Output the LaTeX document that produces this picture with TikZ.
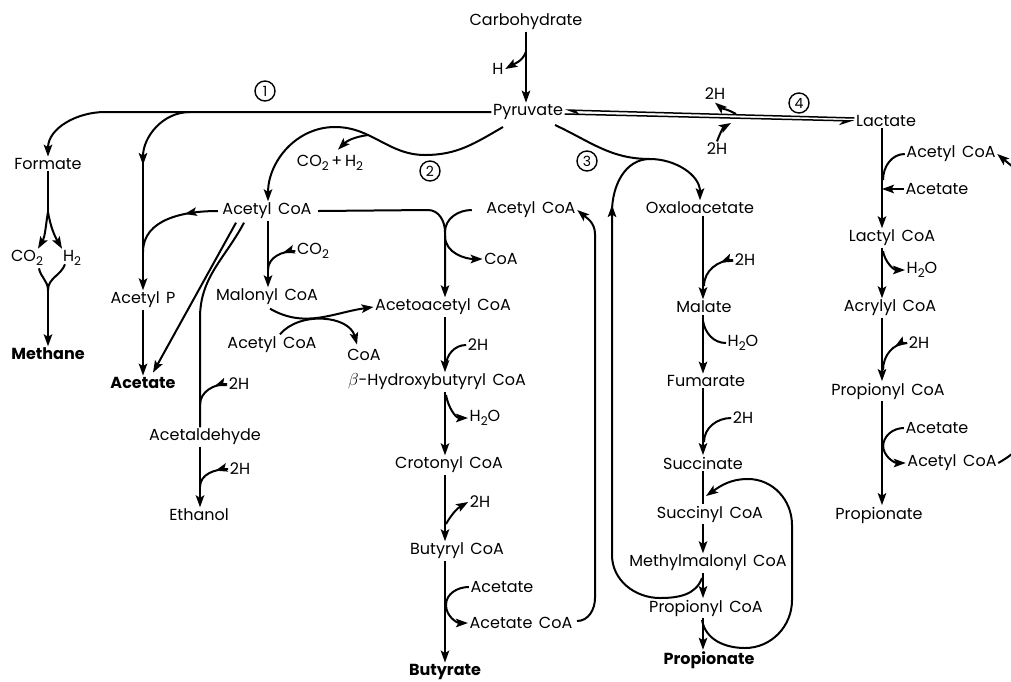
\documentclass[tikz,border=0pt]{standalone}
\usepackage{fontspec}
\setmainfont{Poppins}
\usetikzlibrary{arrows.meta,decorations.markings,calc}
\newcommand{\subd}[1]{\raisebox{-0.45ex}{\fontsize{12}{12}\selectfont #1}}
\newcommand{\widespace}{\spaceskip=6.5pt plus 1pt minus 0pt\relax}
\begin{document}
\begin{tikzpicture}[x=1pt,y=-1pt,
  every node/.style={font=\fontsize{16}{18}\selectfont\widespace, inner sep=1.5pt},
  bold/.style={font=\fontsize{16}{18}\selectfont\bfseries},
  circ/.style={draw, circle, line width=1.4pt, minimum size=20pt, inner sep=0pt, font=\fontsize{14}{14}\selectfont},
  ln/.style={line width=2pt},
  tipa/.tip={Stealth[length=12pt,width=8.5pt,inset=2.5pt]},
  arr/.style={ln,-tipa},
  marr/.style={ln, postaction={decorate}, decoration={markings, mark=at position #1 with {\arrow{tipa}}}},
  hup/.style={line width=1.5pt,-{Stealth[length=13pt,width=9pt,harpoon]}},
  hdn/.style={line width=1.5pt,-{Stealth[length=13pt,width=9pt,harpoon,swap]}}
]
\useasboundingbox (0,0) rectangle (1011,681);
\clip (0,0) rectangle (1011,681);
% column coordinates
\coordinate (xP) at (143,0);
\coordinate (xl) at (200,0);
\coordinate (xm) at (268,0);
\coordinate (xb) at (445,0);
\coordinate (xs) at (703,0);
\coordinate (xr) at (882,0);
% nodes
\node (carb) at (526,22) {Carbohydrate};
\node (H) at (498,69) {H};
\node (pyr) at (528,112) {Pyruvate};
\node[circ] (c1) at (265,91) {1};
\node[circ] (c2) at (430,171) {2};
\node[circ] (c3) at (587,161) {3};
\node[circ] (c4) at (799,103) {4};
\node (form) at (48,164) {Formate};
\node (co2a) at (27,258) {CO\subd{2}};
\node (h2a) at (72,258) {H\subd{2}};
\node[bold] (meth) at (48,354) {Methane};
\node (acp) at (143,300) {Acetyl P};
\node[bold] (acet1) at (143,383) {Acetate};
\node (acoa1) at (267,211) {Acetyl CoA};
\node (co2h2) at (330,163) {CO\subd{2}\,+\,H\subd{2}};
\node (co2b) at (313,251) {CO\subd{2}};
\node (mal) at (267,297) {Malonyl CoA};
\node (acoa2) at (272,345) {Acetyl CoA};
\node (coa2) at (364,355) {CoA};
\node (h2x) at (239,384) {2H};
\node (ald) at (205,437) {Acetaldehyde};
\node (h2y) at (240,469) {2H};
\node (eth) at (199,515) {Ethanol};
\node (acoa3) at (531,210) {Acetyl CoA};
\node (coa1) at (501,259) {CoA};
\node (aca) at (443,307) {Acetoacetyl CoA};
\node (h2c) at (478,345) {2H};
\node (hb) at (437,382) {$\beta$-Hydroxybutyryl CoA};
\node (h2od) at (485,418) {H\subd{2}O};
\node (crot) at (449,465) {Crotonyl CoA};
\node (h2e) at (480,502) {2H};
\node (but) at (457,551) {Butyryl CoA};
\node (acet2) at (502,587) {Acetate};
\node (accoa) at (521,623) {Acetate CoA};
\node[bold] (buty) at (445,672) {Butyrate};
\node (oxa) at (700,208) {Oxaloacetate};
\node (malt) at (704,307) {Malate};
\node (h2f) at (745,260) {2H};
\node (h2og) at (743,343) {H\subd{2}O};
\node (fum) at (706,381) {Fumarate};
\node (h2h) at (743,418) {2H};
\node (succ) at (703,463) {Succinate};
\node (scoa) at (710,514) {Succinyl CoA};
\node (mm) at (708,563) {Methylmalonyl CoA};
\node (pcoa) at (706,608) {Propionyl CoA};
\node[bold] (prop) at (709,660) {Propionate};
\node (lact) at (886,121) {Lactate};
\node (h2u) at (715,94) {2H};
\node (h2l) at (717,149) {2H};
\node (acr1) at (951,154) {Acetyl CoA};
\node (acr2) at (937,189) {Acetate};
\node (lcoa) at (892,238) {Lactyl CoA};
\node (h2or) at (922,270) {H\subd{2}O};
\node (acry) at (890,308) {Acrylyl CoA};
\node (h2r) at (919,343) {2H};
\node (pcr) at (888,391) {Propionyl CoA};
\node (acr3) at (937,428) {Acetate};
\node (acr4) at (952,463) {Acetyl CoA};
\node (propr) at (879,515) {Propionate};
% carbohydrate -> pyruvate
\draw[arr] (carb.south) -- (carb.south |- pyr.north);
\draw[arr] ($(carb.south)+(0,20)$) to[out=-110,in=30] (H.east);
% route 1
\draw[arr] (pyr.west) -- (105,112) to[out=180,in=90] (form.north);
\draw[arr] (190,112) to[out=180,in=90] (143,165);
\draw[arr] (143,160) -- (acp.north);
\draw[ln] (form.south) -- (48,214);
\draw[arr] (48,212) to[out=-100,in=60] ($(co2a.north)+(11,0)$);
\draw[arr] (48,212) to[out=-80,in=120] ($(h2a.north)+(-10,0)$);
\draw[ln] ($(co2a.south)+(12,1)$) to[out=-80,in=90] (48,290);
\draw[ln] ($(h2a.south)+(-7,-3)$) to[out=-110,in=90] (48,290);
\draw[arr] (48,288) -- (meth.north);
\draw[arr] (acp.south) -- (acet1.north);
\draw[marr=0.35] ($(acoa1.west)+(-3,0)$) to[out=180,in=90] (143,252);
% double line from acetyl CoA
\draw[arr] ($(acoa1.south)+(-31,2)$) -- ($(acet1.north)+(10,-3)$);
\draw[ln] ($(acoa1.south)+(-23,2)$) to[out=-118,in=90] (200,318) -- (ald.north -| xl);
\draw[marr=13pt] (h2x.west) to[out=180,in=90] (200,405);
\draw[arr] (ald.south -| xl) -- (eth.north -| xl);
\draw[marr=13pt] (h2y.west) to[out=180,in=90] (200,487);
% route 2
\draw[arr] (503,127) to[out=-150,in=0] (425,155) to[out=180,in=0] (335,127) to[out=180,in=90] (acoa1.north -| xm);
\draw[arr] (368,135) to[out=-172,in=45] ($(co2h2.north)+(8,-4)$);
\draw[arr] (acoa1.south -| xm) -- (mal.north -| xm);
\draw[marr=13pt] (co2b.west) to[out=180,in=90] (268,270);
\draw[arr] ($(acoa1.east)+(5,0)$) -- (428,210) to[out=0,in=90] (445,232) -- (aca.north -| xb);
\draw[ln] ($(acoa3.west)+(-13,0)$) to[out=180,in=90] (445,232);
\draw[arr] (445,236) to[out=-90,in=180] (coa1.west);
\draw[arr] ($(mal.south)+(3,2)$) to[out=-30,in=-172] (aca.west);
\draw[arr] ($(acoa2.north)+(8,-1)$) to[out=50,in=105] ($(coa2.north)+(-7,-3)$);
% butyrate column
\draw[arr] (aca.south -| xb) -- (hb.north -| xb);
\draw[ln] (h2c.west) to[out=180,in=90] (446,366);
\draw[arr] (hb.south -| xb) -- (crot.north -| xb);
\draw[arr] (446,395) to[out=-80,in=180] (h2od.west);
\draw[arr] (crot.south -| xb) -- (but.north -| xb);
\draw[arr] (446,524) to[out=60,in=-150] (h2e.west);
\draw[arr] (but.south -| xb) -- (buty.north -| xb);
\draw[arr] (acet2.west) to[out=180,in=90] (446,605) to[out=-90,in=180] (accoa.west);
\draw[arr] ($(accoa.east)+(3,-2)$) to[out=0,in=-90] (595,598) -- (595,234) to[out=90,in=-40] (acoa3.east);
% route 3
\draw[arr] (555,125) to[out=-25,in=180] (650,159) to[out=0,in=90] (oxa.north);
\draw[arr] (702,578) to[out=-110,in=0] (660,598) to[out=180,in=-90] (612,555) -- (612,205);
\draw[ln] (612,212) to[out=90,in=180] (650,159);
\draw[arr] (oxa.south -| xs) -- (malt.north -| xs);
\draw[marr=13pt] (h2f.west) to[out=180,in=90] (704,286);
\draw[arr] (malt.south -| xs) -- (fum.north -| xs);
\draw[ln] (703,321) to[out=-80,in=180] (h2og.west);
\draw[arr] (fum.south -| xs) -- (succ.north -| xs);
\draw[ln] (h2h.west) to[out=180,in=90] (704,442);
\draw[ln] (succ.south -| xs) -- (scoa.north -| xs);
\draw[arr] (702,620) to[out=-80,in=180] (745,648) to[out=0,in=-90] (792,600) -- (792,525) to[out=90,in=0] (748,479) to[out=180,in=35] (706,496);
\draw[arr] (scoa.south -| xs) -- (mm.north -| xs);
\draw[arr] (mm.south -| xs) -- (pcoa.north -| xs);
\draw[arr] (pcoa.south -| xs) -- (prop.north -| xs);
% route 4
\draw[hup] (lact.west |- 0,118) -- (pyr.east |- 0,110);
\draw[hdn] (pyr.east |- 0,114) -- (lact.west |- 0,121);
\draw[arr] (736,114) to[out=150,in=-40] ($(h2u.south)+(0,1)$);
\draw[arr] (h2l.north) to[out=70,in=-150] (731,123);
\draw[arr] (lact.south -| xr) -- (lcoa.north -| xr);
\draw[ln] (acr1.west) to[out=180,in=90] (883,180);
\draw[arr] (acr2.west) -- (acr2.west -| xr);
\draw[arr] (lcoa.south -| xr) -- (acry.north -| xr);
\draw[arr] (883,251) to[out=-80,in=180] (h2or.west);
\draw[arr] (acry.south -| xr) -- (pcr.north -| xr);
\draw[marr=13pt] (h2r.west) to[out=180,in=90] (883,370);
\draw[arr] (pcr.south -| xr) -- (propr.north -| xr);
\draw[ln] (acr3.west) to[out=180,in=90] (883,447);
\draw[arr] (883,445) to[out=-90,in=180] (acr4.west);
\draw[arr] (acr4.east) to[out=30,in=-90] (1030,420) -- (1030,200) to[out=90,in=-40] (acr1.east);
\end{tikzpicture}
\end{document}
